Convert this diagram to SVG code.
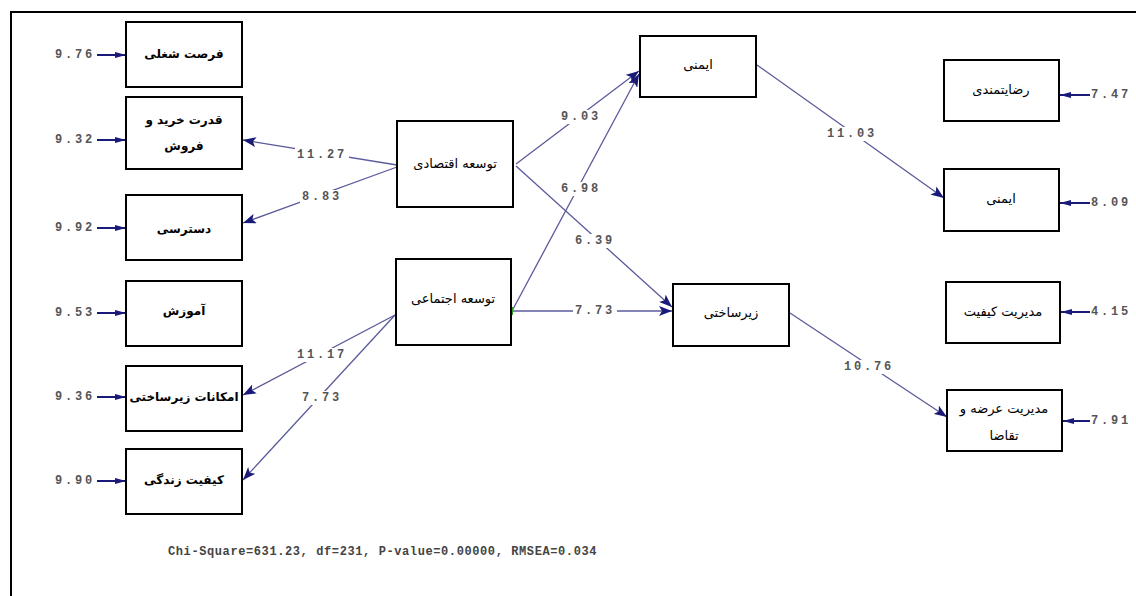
<svg xmlns="http://www.w3.org/2000/svg" width="1136" height="596" viewBox="0 0 1136 596">
<style>
.box{fill:#fff;stroke:#000;stroke-width:2}
.fa{font-family:"DejaVu Sans",sans-serif;font-size:13px;fill:#000;text-anchor:middle;dominant-baseline:central}
.fab{font-weight:bold;font-size:12px}
.num{font-family:"Liberation Mono",monospace;font-weight:bold;font-size:12px;letter-spacing:2.8px;fill:#555;dominant-baseline:central}
.lbl{font-family:"Liberation Mono",monospace;font-weight:bold;font-size:12px;letter-spacing:2.8px;fill:#555;text-anchor:middle;dominant-baseline:central}
.bg{fill:#fff}
.con{fill:none;stroke:#5a5a9c;stroke-width:1.3;marker-end:url(#ah)}
.err{fill:none;stroke:#1a1a78;stroke-width:2;marker-end:url(#eh)}
</style>
<defs>
<marker id="ah" markerUnits="userSpaceOnUse" markerWidth="14" markerHeight="10" refX="13" refY="5" orient="auto">
<path d="M0,0 L13,5 L0,10 L3,5 Z" fill="#1a1a78"/>
</marker>
<marker id="eh" markerUnits="userSpaceOnUse" markerWidth="12" markerHeight="8" refX="11" refY="4" orient="auto">
<path d="M0,1 L11,4 L0,7 Z" fill="#1a1a78"/>
</marker>
</defs>
<rect width="1136" height="596" fill="#fff"/>
<path d="M11,596 V12 H1136" fill="none" stroke="#000" stroke-width="2"/>

<g id="connectors">
<path class="con" d="M397,165 L243,140"/>
<path class="con" d="M397,167 L243,223"/>
<path class="con" d="M516,164 L639,71"/>
<path class="con" d="M516,166 L672,307"/>
<path class="con" d="M512,311 L639,74"/>
<path class="con" d="M512,311 L672,311"/>
<path class="con" d="M395,315 L243,395"/>
<path class="con" d="M395,315 L243,480"/>
<path class="con" d="M757,65 L944,198"/>
<path class="con" d="M790,313 L947,417"/>
<rect x="510" y="161" width="3" height="6" fill="#2a9a2a"/>
<rect x="510" y="307" width="3" height="8" fill="#2a9a2a"/>
<path class="err" d="M97,55 H126"/>
<path class="err" d="M97,140 H126"/>
<path class="err" d="M97,228 H126"/>
<path class="err" d="M97,313 H126"/>
<path class="err" d="M97,397 H126"/>
<path class="err" d="M97,481 H126"/>
<path class="err" d="M1090,95 H1060"/>
<path class="err" d="M1090,203 H1060"/>
<path class="err" d="M1090,312 H1061"/>
<path class="err" d="M1090,421 H1063"/>
<rect class="bg" x="295" y="148" width="54" height="14"/><text class="lbl" x="322" y="155">11.27</text>
<rect class="bg" x="300" y="190" width="44" height="14"/><text class="lbl" x="322" y="197">8.83</text>
<rect class="bg" x="559" y="110" width="44" height="14"/><text class="lbl" x="581" y="117">9.03</text>
<rect class="bg" x="559" y="182" width="44" height="14"/><text class="lbl" x="581" y="189">6.98</text>
<rect class="bg" x="573" y="234" width="44" height="14"/><text class="lbl" x="595" y="241">6.39</text>
<rect class="bg" x="573" y="304" width="44" height="14"/><text class="lbl" x="595" y="311">7.73</text>
<rect class="bg" x="295" y="348" width="54" height="14"/><text class="lbl" x="322" y="355">11.17</text>
<rect class="bg" x="300" y="391" width="44" height="14"/><text class="lbl" x="322" y="398">7.73</text>
<rect class="bg" x="825" y="127" width="54" height="14"/><text class="lbl" x="852" y="134">11.03</text>
<rect class="bg" x="842" y="360" width="54" height="14"/><text class="lbl" x="869" y="367">10.76</text>
</g>

<g id="err-left">
<text class="num" x="55" y="55">9.76</text>
<text class="num" x="55" y="140">9.32</text>
<text class="num" x="55" y="228">9.92</text>
<text class="num" x="55" y="313">9.53</text>
<text class="num" x="55" y="397">9.36</text>
<text class="num" x="55" y="481">9.90</text>
</g>
<g id="err-right">
<text class="num" x="1091" y="95">7.47</text>
<text class="num" x="1091" y="203">8.09</text>
<text class="num" x="1091" y="312">4.15</text>
<text class="num" x="1091" y="421">7.91</text>
</g>

<g id="n-job"><rect class="box" x="126" y="22" width="116" height="65"/><text class="fa fab" x="184" y="54">فرصت شغلی</text></g>
<g id="n-purchase"><rect class="box" x="126" y="97" width="116" height="72"/><text class="fa fab" x="184" y="120">قدرت خرید و</text><text class="fa fab" x="184" y="146">فروش</text></g>
<g id="n-access"><rect class="box" x="126" y="195" width="116" height="65"/><text class="fa fab" x="184" y="229">دسترسی</text></g>
<g id="n-edu"><rect class="box" x="126" y="281" width="116" height="65"/><text class="fa fab" x="184" y="311">آموزش</text></g>
<g id="n-infra-fac"><rect class="box" x="126" y="366" width="116" height="65"/><text class="fa fab" x="184" y="397">امکانات زیرساختی</text></g>
<g id="n-life"><rect class="box" x="126" y="449" width="116" height="65"/><text class="fa fab" x="184" y="480">کیفیت زندگی</text></g>

<g id="n-econ"><rect class="box" x="397" y="121" width="116" height="86"/><text class="fa" x="455" y="163">توسعه اقتصادی</text></g>
<g id="n-social"><rect class="box" x="396" y="259" width="115" height="86"/><text class="fa" x="453" y="298">توسعه اجتماعی</text></g>

<g id="n-safety1"><rect class="box" x="640" y="36" width="116" height="61"/><text class="fa" x="698" y="64">ایمنی</text></g>
<g id="n-infra"><rect class="box" x="673" y="284" width="116" height="62"/><text class="fa" x="731" y="312">زیرساختی</text></g>

<g id="n-satis"><rect class="box" x="944" y="60" width="115" height="61"/><text class="fa" x="1001" y="89">رضایتمندی</text></g>
<g id="n-safety2"><rect class="box" x="944" y="169" width="115" height="62"/><text class="fa" x="1001" y="198">ایمنی</text></g>
<g id="n-quality"><rect class="box" x="946" y="282" width="114" height="61"/><text class="fa" x="1003" y="311">مدیریت کیفیت</text></g>
<g id="n-supply"><rect class="box" x="947" y="390" width="115" height="61"/><text class="fa" x="1004" y="408">مدیریت عرضه و</text><text class="fa" x="1004" y="435">تقاضا</text></g>

<text x="168" y="552" font-family="Liberation Mono, monospace" font-size="12" letter-spacing="0.6" font-weight="bold" fill="#444" dominant-baseline="central">Chi-Square=631.23, df=231, P-value=0.00000, RMSEA=0.034</text>
</svg>
